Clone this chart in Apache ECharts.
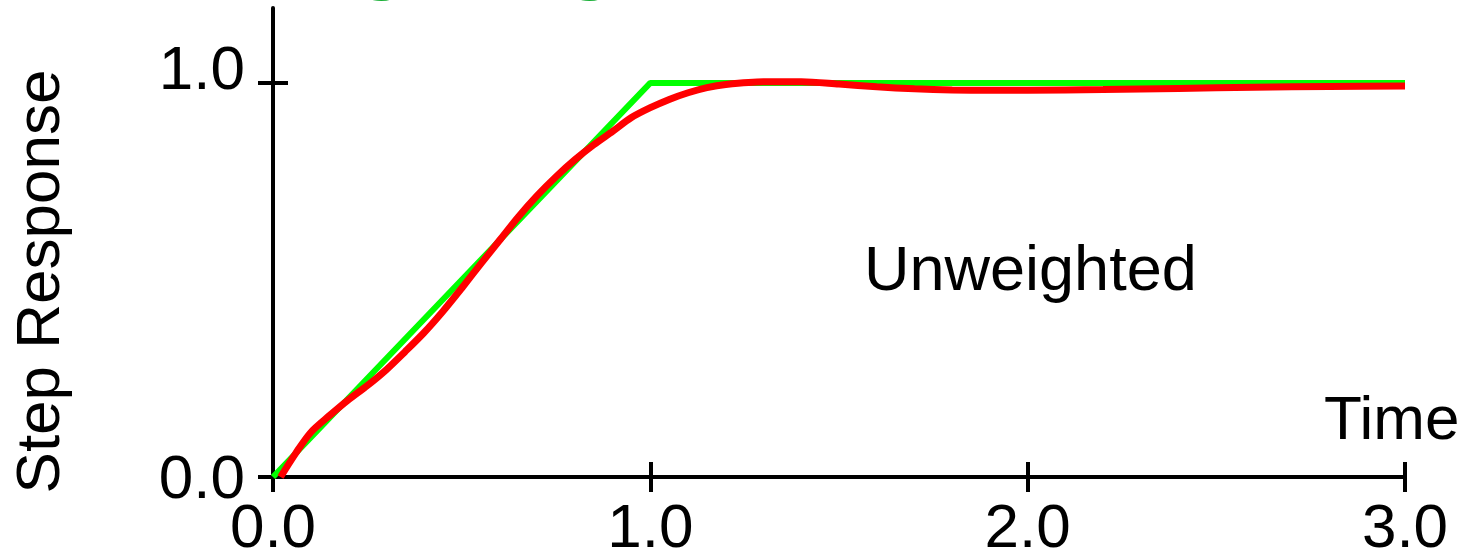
<!DOCTYPE html>
<html>
<head>
<meta charset="utf-8">
<script src="https://cdn.jsdelivr.net/npm/echarts@6/dist/echarts.min.js"></script>
<style>
html,body{margin:0;padding:0;background:#fff;}
#chart{width:1468px;height:555px;}
</style>
</head>
<body>
<div id="chart"></div>
<script>
// ---- data ----
const xTicks = [0, 1, 2, 3];
const yTicks = [0, 1];
const idealTime = [0, 1, 3];
const idealResp = [0, 1, 1];
const unweightedTime = [0.02, 0.06, 0.1, 0.15, 0.2, 0.25, 0.3, 0.35, 0.4, 0.45, 0.5, 0.55, 0.6, 0.65, 0.7, 0.75, 0.8, 0.85, 0.9, 0.95, 1.0, 1.05, 1.1, 1.15, 1.2, 1.3, 1.4, 1.5, 1.6, 1.7, 1.8, 1.9, 2.0, 2.2, 2.4, 2.6, 2.8, 3.0];
const unweightedResp = [0, 0.06, 0.113, 0.156, 0.196, 0.232, 0.272, 0.318, 0.366, 0.42, 0.479, 0.54, 0.6, 0.66, 0.714, 0.762, 0.805, 0.843, 0.877, 0.912, 0.937, 0.958, 0.975, 0.988, 0.996, 1.003, 1.003, 0.997, 0.99, 0.985, 0.982, 0.981, 0.981, 0.983, 0.986, 0.989, 0.991, 0.992];
const labels = {xName: 'Time', yName: 'Step Response', note: 'Unweighted', top: 'Weighting'};

const FONT = 'Liberation Sans';
const chart = echarts.init(document.getElementById('chart'), null, {renderer: 'canvas'});
const axisCommon = {type: 'value', min: 0, interval: 1};
const labelText = {fontFamily: FONT, fontSize: 62, color: '#000'};
const option = {
  animation: false,
  backgroundColor: '#fff',
  grid: {left: 273, right: 63, top: 8, bottom: 78, containLabel: false, outerBoundsMode: 'none'},
  xAxis: [
    Object.assign({}, axisCommon, {
      max: 3, position: 'bottom',
      axisLine: {show: true, onZero: false, lineStyle: {color: '#000', width: 4}},
      axisTick: {show: true, inside: false, length: 15, lineStyle: {color: '#000', width: 4}, customValues: xTicks},
      axisLabel: Object.assign({show: true, margin: 22, customValues: xTicks, formatter: v => v.toFixed(1)}, labelText),
      splitLine: {show: false}
    }),
    Object.assign({}, axisCommon, {
      max: 3, position: 'bottom',
      axisLine: {show: false, onZero: false},
      axisTick: {show: true, inside: true, length: 15, lineStyle: {color: '#000', width: 4}, customValues: xTicks},
      axisLabel: {show: false},
      splitLine: {show: false}
    })
  ],
  yAxis: [
    Object.assign({}, axisCommon, {
      max: 1.19, position: 'left',
      name: labels.yName, nameLocation: 'middle', nameRotate: 90, nameGap: 200,
      nameTextStyle: Object.assign({padding: [0, 78, 0, 0]}, labelText),
      axisLine: {show: true, onZero: false, lineStyle: {color: '#000', width: 4}},
      axisTick: {show: true, inside: false, length: 15, lineStyle: {color: '#000', width: 4}, customValues: yTicks},
      axisLabel: Object.assign({
        show: true, margin: 28, customValues: yTicks,
        formatter: v => (v >= 1 ? '{hi|' : '{lo|') + v.toFixed(1) + '}',
        rich: {
          hi: Object.assign({padding: [0, 0, 21, 0]}, labelText),
          lo: Object.assign({padding: [8, 0, 0, 0]}, labelText)
        }
      }, labelText),
      splitLine: {show: false}
    }),
    Object.assign({}, axisCommon, {
      max: 1.19, position: 'left',
      axisLine: {show: false, onZero: false},
      axisTick: {show: true, inside: true, length: 15, lineStyle: {color: '#000', width: 4}, customValues: yTicks},
      axisLabel: {show: false},
      splitLine: {show: false}
    })
  ],
  graphic: [
    {type: 'text', left: 864, top: 241, style: {text: labels.note, fontFamily: FONT, fontSize: 63, fill: '#000'}},
    {type: 'text', left: 1324, top: 391, style: {text: labels.xName, fontFamily: FONT, fontSize: 62, fill: '#000'}},
    {type: 'text', x: 192, y: -45, style: {text: labels.top, fontFamily: FONT, fontSize: 96, fill: '#1aaf37', align: 'left', verticalAlign: 'middle'}}
  ],
  series: [
    {type: 'line', name: 'Ideal', data: idealTime.map((t, i) => [t, idealResp[i]]), showSymbol: false, symbol: 'none',
     lineStyle: {color: '#00ff00', width: 6}, z: 2},
    {type: 'line', name: labels.note, data: unweightedTime.map((t, i) => [t, unweightedResp[i]]), showSymbol: false, symbol: 'none', smooth: 0.3,
     lineStyle: {color: '#ff0000', width: 7}, z: 3}
  ]
};
chart.setOption(option);
</script>
</body>
</html>
